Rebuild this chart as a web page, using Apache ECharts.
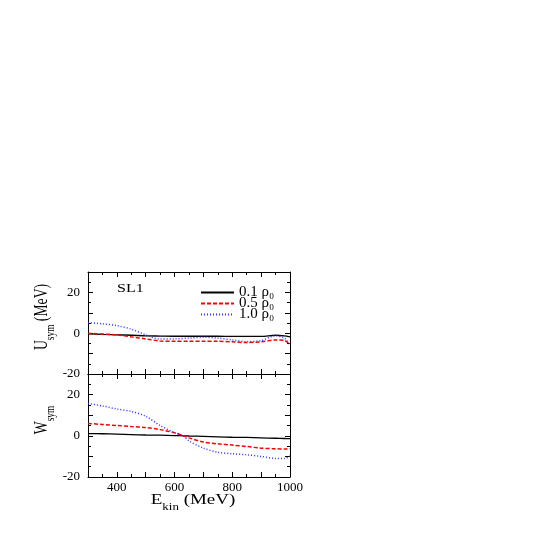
<!DOCTYPE html>
<html>
<head>
<meta charset="utf-8">
<script src="https://cdn.jsdelivr.net/npm/echarts@6/dist/echarts.min.js"></script>
<style>
  html, body { margin: 0; padding: 0; background: #fff; }
  #main { width: 545px; height: 545px; }
</style>
</head>
<body>
<div id="main"></div>
<script>
// energies (MeV)
var ekinU = [300, 350, 400, 450, 500, 550, 600, 650, 700, 750, 800, 850, 900, 950, 980, 1000];
var ekinW = [300, 350, 400, 450, 500, 550, 600, 630, 650, 700, 750, 800, 850, 900, 950, 980, 1000];
// U_sym (MeV), top panel
var usym01 = [-0.3, -0.6, -0.8, -1.0, -1.3, -1.4, -1.5, -1.5, -1.5, -1.5, -1.6, -1.6, -1.6, -1.0, -1.3, -1.8];
var usym05 = [0, -0.4, -0.8, -1.8, -2.8, -3.8, -4.0, -4.0, -4.0, -4.0, -4.2, -4.6, -4.2, -3.3, -3.5, -5.7];
var usym10 = [5.2, 4.6, 3.7, 2.0, -0.8, -2.9, -2.8, -2.4, -2.0, -2.4, -3.3, -4.1, -3.6, -1.2, -2.4, -5.7];
// W_sym (MeV), bottom panel
var wsym01 = [1.1, 1.0, 0.8, 0.6, 0.4, 0.3, 0.1, 0, -0.1, -0.3, -0.5, -0.7, -0.8, -1.0, -1.2, -1.3, -1.4];
var wsym05 = [6.0, 5.5, 5.0, 4.5, 4.0, 3.0, 1.5, 0, -1.0, -3.0, -3.9, -4.5, -5.2, -6.0, -6.3, -6.4, -6.3];
var wsym10 = [15.7, 14.5, 13.0, 11.8, 9.5, 5.0, 1.5, 0, -2.5, -6.0, -8.0, -8.7, -9.2, -10.0, -11.0, -11.0, -9.8];
var legendNames = ['0.1 ρ₀', '0.5 ρ₀', '1.0 ρ₀'];

function pairs(xs, ys) {
  return xs.map(function (x, i) { return [x, ys[i]]; });
}

var chart = echarts.init(document.getElementById('main'));
var serif = 'Liberation Serif';

function xAx(grid, pos, showLabel) {
  return {
    type: 'value', gridIndex: grid, position: pos,
    min: 300, max: 1000, interval: 100,
    axisLine: { onZero: false, lineStyle: { color: '#000', width: 1 } },
    axisTick: { inside: true, length: 5, lineStyle: { color: '#000' } },
    minorTick: { show: true, splitNumber: 2, length: 3, lineStyle: { color: '#000' } },
    splitLine: { show: false },
    axisLabel: {
      show: showLabel, margin: 4, fontFamily: serif, fontSize: 13, color: '#000',
      formatter: function (v) { return (v % 200 === 0) ? v : ''; }
    }
  };
}
function yAx(grid, pos, showLabel) {
  return {
    type: 'value', gridIndex: grid, position: pos,
    min: -20, max: 30, interval: 10,
    axisLine: { onZero: false, lineStyle: { color: '#000', width: 1 } },
    axisTick: { inside: true, length: 5, lineStyle: { color: '#000' } },
    minorTick: { show: true, splitNumber: 2, length: 3, lineStyle: { color: '#000' } },
    splitLine: { show: false },
    axisLabel: {
      show: showLabel, margin: 8, fontFamily: serif, fontSize: 13, color: '#000',
      formatter: function (v) { return (v % 20 === 0) ? v : ''; }
    }
  };
}

var lineStyles = [
  { color: '#000', type: 'solid', width: 1.3 },
  { color: '#ff0000', type: [4, 2], width: 1.5 },
  { color: '#3333ff', type: [1, 2], width: 1.5 }
];

function mkSeries(name, xi, yi, data, k) {
  return {
    name: name, type: 'line', xAxisIndex: xi, yAxisIndex: yi,
    data: data, symbol: 'none', smooth: 0.3,
    lineStyle: lineStyles[k], itemStyle: { color: lineStyles[k].color },
    animation: false
  };
}

// axis titles with subscripts (text in the original is squashed along its length)
var titleRich = {
  m: { fontFamily: serif, fontSize: 19, fill: '#000', lineHeight: 20, verticalAlign: 'top' },
  s: { fontFamily: serif, fontSize: 13, fill: '#000', lineHeight: 25, verticalAlign: 'bottom' }
};
function title(text, x, y, rot) {
  var el = {
    type: 'text', x: x, y: y, rotation: rot ? Math.PI / 2 : 0,
    style: { text: text, align: 'center', verticalAlign: 'middle', rich: titleRich }
  };
  if (rot) { el.scaleX = 0.72; } else { el.scaleY = 0.72; }
  return el;
}

chart.setOption({
  animation: false,
  grid: [
    { left: 88, top: 272, width: 202, height: 102 },
    { left: 88, top: 374, width: 202, height: 103 }
  ],
  xAxis: [
    xAx(0, 'bottom', false), xAx(0, 'top', false),
    xAx(1, 'bottom', true), xAx(1, 'top', false)
  ],
  yAxis: [
    yAx(0, 'left', true), yAx(0, 'right', false),
    yAx(1, 'left', true), yAx(1, 'right', false)
  ],
  legend: {
    data: legendNames, orient: 'vertical', left: 195, top: 280,
    itemWidth: 33, itemHeight: 10, itemGap: -4,
    itemStyle: { opacity: 0 },
    textStyle: { fontFamily: serif, fontSize: 15, color: '#000', lineHeight: 10 }
  },
  graphic: [
    { type: 'text', x: 117, y: 289, scaleY: 0.8,
      style: { text: 'SL1', font: '16px "Liberation Serif"', fill: '#000', verticalAlign: 'middle' } },
    title('{m|U}{s|sym}{m| (MeV)}', 45, 317, true),
    title('{m|W}{s|sym}', 45, 420, true),
    title('{m|E}{s|kin}{m| (MeV)}', 193, 503, false)
  ],
  series: [
    mkSeries(legendNames[0], 0, 0, pairs(ekinU, usym01), 0),
    mkSeries(legendNames[1], 0, 0, pairs(ekinU, usym05), 1),
    mkSeries(legendNames[2], 0, 0, pairs(ekinU, usym10), 2),
    mkSeries(legendNames[0], 2, 2, pairs(ekinW, wsym01), 0),
    mkSeries(legendNames[1], 2, 2, pairs(ekinW, wsym05), 1),
    mkSeries(legendNames[2], 2, 2, pairs(ekinW, wsym10), 2)
  ]
});
</script>
</body>
</html>
